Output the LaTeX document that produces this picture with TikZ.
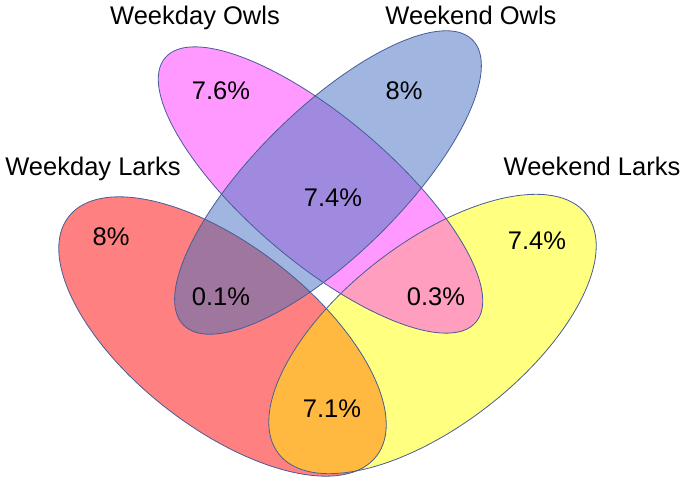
\documentclass[tikz,border=0pt]{standalone}
\usepackage{fontspec}
\setmainfont{Liberation Sans}
\usepackage{tikz}
\usetikzlibrary{positioning,calc}
\definecolor{larkred}{RGB}{255,128,128}
\definecolor{owlpink}{RGB}{255,153,255}
\definecolor{owlblue}{RGB}{160,181,224}
\definecolor{larkyel}{RGB}{255,255,128}
\definecolor{mixpurple}{RGB}{160,138,224}
\definecolor{mixplum}{RGB}{158,118,158}
\definecolor{mixrose}{RGB}{255,158,191}
\definecolor{mixorange}{RGB}{255,185,64}
\definecolor{rimblue}{RGB}{72,92,150}
% the four sets
\newcommand{\setWDL}{(222.5,143.5) ellipse [x radius=195, y radius=91, rotate=-37.9]}
\newcommand{\setWEL}{(432.5,146) ellipse [x radius=195, y radius=91, rotate=37.9]}
\newcommand{\setWDO}{(320.5,290) ellipse [x radius=204, y radius=72, rotate=-40.4]}
\newcommand{\setWEO}{(328,297.5) ellipse [x radius=203, y radius=73, rotate=44.6]}
\tikzset{
  rim/.style={draw=rimblue,line width=0.8pt},
  setname/.style={font=\fontsize{25.5}{30}\selectfont,anchor=base,inner sep=0pt},
  pct/.style={font=\fontsize{25.5}{30}\selectfont,anchor=base,inner sep=0pt},
}
\begin{document}
\begin{tikzpicture}[x=1pt,y=1pt]
  \useasboundingbox (0,0) rectangle (685,480);
  % plain fills
  \fill[larkred] \setWDL;
  \fill[larkyel] \setWEL;
  \fill[owlpink] \setWDO;
  \fill[owlblue] \setWEO;
  % pairwise overlaps
  \begin{scope}
    \clip \setWDL;
    \fill[mixplum] \setWEO;
    \fill[mixorange] \setWEL;
  \end{scope}
  \begin{scope}
    \clip \setWDO;
    \fill[mixpurple] \setWEO;
    \fill[mixrose] \setWEL;
  \end{scope}
  % outlines
  \draw[rim] \setWDL;
  \draw[rim] \setWEL;
  \draw[rim] \setWDO;
  \draw[rim] \setWEO;
  % set names
  \node[setname] (tWDO) at (195,455) {Weekday Owls};
  \node[setname] (tWEO) at (471,455) {Weekend Owls};
  \node[setname] (tWDL) at (93,304) {Weekday Larks};
  \node[setname] (tWEL) at (592,304) {Weekend Larks};
  % region values
  \node[pct] (pWDO) at (221,380) {7.6\%};
  \node[pct] (pWEO) at (404,380) {8\%};
  \node[pct] (pOwls) at (333,273) {7.4\%};
  \node[pct] (pWDL) at (111,235) {8\%};
  \node[pct] (pWEL) at (537,231) {7.4\%};
  \node[pct] (pDay) at (221,175) {0.1\%};
  \node[pct] (pEnd) at (436,175) {0.3\%};
  \node[pct] (pLarks) at (332,63) {7.1\%};
\end{tikzpicture}
\end{document}
